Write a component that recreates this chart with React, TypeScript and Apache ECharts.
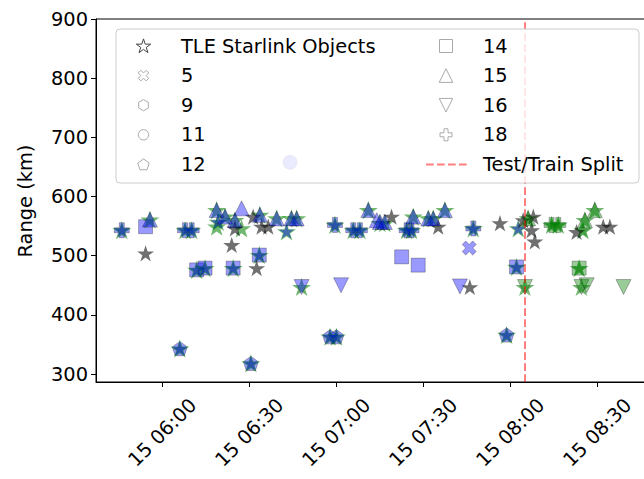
import React, { useEffect, useRef } from "react";
import * as echarts from "echarts";

// ---------- data ----------
const xTickTimes = ["06:00", "06:30", "07:00", "07:30", "08:00", "08:30"];
const xTickLabels = ["15 06:00", "15 06:30", "15 07:00", "15 07:30", "15 08:00", "15 08:30"];
const yTicks = [300, 400, 500, 600, 700, 800, 900];
const xStart = "05:37:06";
const xEnd = "08:50:00";
const yMin = 286.5;
const yMax = 900;
const splitTime = "08:04:48";
const yTitle = "Range (km)";

// TLE Starlink objects matched with an observation (time, range km)
const matchedStars: [string, number][] = [
  ["05:46:00", 543], ["05:55:42", 561], ["06:07:48", 543], ["06:10:06", 543],
  ["06:11:48", 476], ["06:14:42", 479], ["06:24:24", 479], ["06:33:24", 501],
  ["06:06:00", 343], ["06:30:30", 318], ["06:48:00", 447], ["06:57:48", 363],
  ["07:00:00", 363], ["06:18:42", 577], ["06:19:12", 557], ["06:18:42", 549],
  ["06:21:36", 566], ["06:25:00", 560], ["06:27:18", 546], ["06:33:36", 569],
  ["06:39:24", 563], ["06:42:48", 541], ["06:44:30", 563], ["06:46:18", 563],
  ["06:59:30", 552], ["07:05:48", 543], ["07:08:06", 543], ["07:11:00", 577],
  ["07:15:00", 555], ["07:16:42", 555], ["07:24:12", 543], ["07:25:54", 543],
  ["07:26:30", 566], ["07:31:42", 563], ["07:33:24", 563], ["07:37:24", 577],
  ["07:47:12", 546], ["07:58:42", 366], ["08:02:06", 481], ["08:02:42", 546],
  ["08:05:00", 447], ["08:06:06", 563], ["08:14:12", 552], ["08:16:30", 552],
  ["08:23:42", 479], ["08:24:30", 447], ["08:25:00", 543], ["08:25:42", 560],
  ["08:29:06", 577],
];
// TLE Starlink objects without an observation
const otherStars: [string, number][] = [
  ["05:54:12", 504], ["06:23:54", 518], ["06:25:00", 546], ["06:31:18", 566],
  ["06:34:12", 549], ["06:36:30", 549], ["06:32:30", 479], ["07:19:00", 566],
  ["07:35:06", 549], ["07:46:00", 447], ["07:56:24", 555], ["08:04:24", 560],
  ["08:07:54", 566], ["08:07:18", 543], ["08:08:24", 524], ["08:22:48", 540],
  ["08:32:00", 549], ["08:34:18", 549],
];
const sensor5: [string, number][] = [["07:45:48", 513]];
const sensor9: [string, number][] = [];
const sensor11: [string, number][] = [["06:44:00", 658]];
const sensor12: [string, number][] = [
  ["06:06:00", 343], ["06:30:30", 318], ["06:57:48", 363], ["07:00:00", 363], ["07:58:42", 366],
];
const sensor14: [string, number][] = [
  ["05:54:12", 549], ["06:11:48", 476], ["06:14:42", 479], ["06:24:24", 479],
  ["06:33:24", 501], ["07:22:30", 498], ["07:28:12", 484], ["08:02:06", 481], ["08:23:42", 479],
];
const sensor15: [string, number][] = [
  ["05:55:42", 561], ["06:18:42", 577], ["06:21:36", 566], ["06:25:00", 560],
  ["06:27:18", 580], ["06:33:36", 569], ["06:39:24", 563], ["06:44:30", 563],
  ["06:46:18", 563], ["07:11:00", 577], ["07:13:54", 560], ["07:15:00", 557],
  ["07:16:42", 557], ["07:26:30", 566], ["07:31:42", 563], ["07:33:24", 563],
  ["07:37:24", 577], ["08:06:06", 563], ["08:25:42", 560], ["08:29:06", 577],
];
const sensor16: [string, number][] = [
  ["06:48:00", 447], ["07:01:36", 450], ["07:42:36", 448], ["08:05:00", 447],
  ["08:24:30", 447], ["08:26:18", 450], ["08:39:00", 447],
];
const sensor18: [string, number][] = [
  ["05:46:00", 543], ["06:07:48", 543], ["06:10:06", 543], ["06:59:30", 552],
  ["07:05:48", 543], ["07:08:06", 543], ["07:24:12", 543], ["07:25:54", 543],
  ["07:47:12", 546], ["08:14:12", 552], ["08:16:30", 552],
];
const legendCol1 = ["TLE Starlink Objects", "5", "9", "11", "12"];
const legendCol2 = ["14", "15", "16", "18", "Test/Train Split"];

// ---------- helpers ----------
const FONT = "DejaVu Sans";
const FS = 19.4;
const toMin = (s: string) => {
  const [h, m, sec] = s.split(":").map(Number);
  return h * 60 + m + (sec || 0) / 60;
};
const splitMin = toMin(splitTime);

type Pt = [number, number];
const starPts = (): Pt[] => {
  const pts: Pt[] = [];
  for (let k = 0; k < 10; k++) {
    const a = ((-90 + k * 36) * Math.PI) / 180;
    const r = k % 2 === 0 ? 1 : 0.381966;
    pts.push([r * Math.cos(a), r * Math.sin(a)]);
  }
  return pts;
};
const regPts = (n: number): Pt[] => {
  const pts: Pt[] = [];
  for (let k = 0; k < n; k++) {
    const a = ((-90 + (k * 360) / n) * Math.PI) / 180;
    pts.push([Math.cos(a), Math.sin(a)]);
  }
  return pts;
};
const plusPts = (): Pt[] =>
  [[-1, -3], [1, -3], [1, -1], [3, -1], [3, 1], [1, 1], [1, 3], [-1, 3], [-1, 1], [-3, 1], [-3, -1], [-1, -1]].map(
    ([x, y]) => [x / 3, y / 3] as Pt
  );
const xPts = (): Pt[] =>
  plusPts().map(([x, y]) => {
    const c = Math.SQRT1_2;
    return [(x - y) * c, (x + y) * c] as Pt;
  });
const triUp: Pt[] = [[0, -1], [1, 1], [-1, 1]];
const triDown: Pt[] = [[-1, -1], [1, -1], [0, 1]];
const pathOf = (pts: Pt[]) =>
  "path://" + pts.map((p, i) => (i ? "L" : "M") + p[0].toFixed(4) + " " + p[1].toFixed(4)).join(" ") + " Z";

const STAR = pathOf(starPts());
const PENT = pathOf(regPts(5));
const HEX = pathOf(regPts(6));
const PLUS = pathOf(plusPts());
const XSYM = pathOf(xPts());
const TUP = pathOf(triUp);
const TDOWN = pathOf(triDown);

const BLUE = "rgba(0,0,255,0.5)";
const GREEN = "rgba(0,128,0,0.5)";
const EDGE = "rgba(0,0,0,0.35)";

const sensorSeries = (name: string, arr: [string, number][], symbol: string, size: number) => ({
  type: "scatter",
  name,
  symbol,
  symbolSize: size,
  symbolKeepAspect: true,
  silent: true,
  data: arr.map(([t, v]) => {
    const x = toMin(t);
    return { value: [x, v], itemStyle: { color: x < splitMin ? BLUE : GREEN, borderColor: EDGE, borderWidth: 1 } };
  }),
});

export default function App() {
  const ref = useRef<HTMLDivElement>(null);
  useEffect(() => {
    document.body.style.margin = "0";
    if (!ref.current) return;
    const chart = echarts.init(ref.current, undefined, { renderer: "svg" });
    const xTicks = xTickTimes.map(toMin);
    const xMin = toMin(xStart);
    const xMax = toMin(xEnd);
    const pxPerMin = 2.9;
    const triTimes = new Set([...sensor15, ...sensor16].map(([t]) => t));

    const g: any[] = [];
    g.push({
      type: "rect",
      shape: { x: 116, y: 29, width: 523, height: 154, r: 4 },
      style: { fill: "rgba(255,255,255,0.8)", stroke: "#cccccc", lineWidth: 1 },
      z: 100,
    });
    const rowY = (i: number) => 46 + i * 29.6;
    const c1m = 143.5;
    const c2m = 446;
    const c1t = 181;
    const c2t = 483;
    const poly = (pts: Pt[], cx: number, cy: number, r: number, stroke: string) => ({
      type: "polygon",
      shape: { points: pts.map(([x, y]) => [cx + x * r, cy + y * r]) },
      style: { fill: "#ffffff", stroke, lineWidth: 1 },
      z: 101,
    });
    g.push(poly(starPts(), c1m, rowY(0) + 0.5, 7.6, "#444444"));
    g.push(poly(xPts(), c1m, rowY(1), 5.6, "#aaaaaa"));
    g.push(poly(regPts(6), c1m, rowY(2), 5.6, "#aaaaaa"));
    g.push({
      type: "circle",
      shape: { cx: c1m, cy: rowY(3), r: 5.2 },
      style: { fill: "#ffffff", stroke: "#aaaaaa", lineWidth: 1 },
      z: 101,
    });
    g.push(poly(regPts(5), c1m, rowY(4) + 0.5, 6, "#aaaaaa"));
    g.push({
      type: "rect",
      shape: { x: c2m - 6.5, y: rowY(0) - 6.5, width: 13, height: 13 },
      style: { fill: "#ffffff", stroke: "#aaaaaa", lineWidth: 1 },
      z: 101,
    });
    g.push(poly(triUp, c2m, rowY(1), 6.8, "#aaaaaa"));
    g.push(poly(triDown, c2m, rowY(2), 6.8, "#aaaaaa"));
    g.push(poly(plusPts(), c2m, rowY(3), 6, "#aaaaaa"));
    g.push({
      type: "line",
      shape: { x1: 426, y1: rowY(4), x2: 467.5, y2: rowY(4) },
      style: { stroke: "rgba(255,0,0,0.5)", lineWidth: 2, lineDash: [7.7, 3.3] },
      z: 101,
    });
    const txt = (t: string, x: number, y: number) => ({
      type: "text",
      x,
      y,
      style: { text: t, fontSize: FS, fontFamily: FONT, fill: "#000", verticalAlign: "middle", align: "left" },
      z: 102,
    });
    legendCol1.forEach((t, i) => g.push(txt(t, c1t, rowY(i))));
    legendCol2.forEach((t, i) => g.push(txt(t, c2t, rowY(i))));
    g.push({
      type: "text",
      x: 25,
      y: 201,
      rotation: Math.PI / 2,
      style: { text: yTitle, fontSize: FS, fontFamily: FONT, fill: "#000", verticalAlign: "middle", align: "center" },
      z: 102,
    });

    chart.setOption({
      animation: false,
      backgroundColor: "#ffffff",
      textStyle: { fontFamily: FONT },
      grid: {
        left: 96,
        top: 19,
        width: (xMax - xMin) * pxPerMin,
        height: 363,
        show: true,
        borderColor: "#000",
        borderWidth: 1,
        backgroundColor: "transparent",
      },
      xAxis: {
        type: "value",
        min: xMin,
        max: xMax,
        axisLine: { show: true, onZero: false, lineStyle: { color: "#000", width: 1 } },
        axisTick: { show: true, customValues: xTicks, length: 5, lineStyle: { color: "#000", width: 1 } },
        axisLabel: {
          customValues: xTicks,
          rotate: 45,
          align: "center",
          verticalAlign: "middle",
          margin: 50.5,
          fontSize: FS,
          fontFamily: FONT,
          color: "#000",
          formatter: (v: number) => {
            const i = xTicks.findIndex((t) => Math.abs(t - v) < 0.01);
            return i >= 0 ? xTickLabels[i] : "";
          },
        },
        splitLine: { show: false },
      },
      yAxis: {
        type: "value",
        min: yMin,
        max: yMax,
        axisLine: { show: true, lineStyle: { color: "#000", width: 1 } },
        axisTick: { show: true, customValues: yTicks, length: 5, lineStyle: { color: "#000", width: 1 } },
        axisLabel: { customValues: yTicks, margin: 8, fontSize: FS, fontFamily: FONT, color: "#000" },
        splitLine: { show: false },
      },
      graphic: g,
      series: [
        // sensors drawn beneath the stars
        sensorSeries("14", sensor14, "rect", 14),
        sensorSeries("12", sensor12, PENT, 15),
        sensorSeries("18", sensor18, PLUS, 15),
        {
          type: "scatter",
          name: "TLE base",
          symbol: STAR,
          symbolSize: 19,
          symbolKeepAspect: true,
          silent: true,
          itemStyle: { color: "rgba(0,128,0,0.7)" },
          data: matchedStars.map(([t, v]) => [toMin(t), v]),
          markLine: {
            silent: true,
            symbol: "none",
            label: { show: false },
            lineStyle: { color: "rgba(255,0,0,0.5)", width: 2, type: [7.7, 3.3] },
            data: [{ xAxis: splitMin }],
          },
        },
        {
          type: "scatter",
          name: "TLE Starlink Objects",
          symbol: STAR,
          symbolSize: 15,
          symbolKeepAspect: true,
          silent: true,
          data: matchedStars
            .filter(([t]) => !triTimes.has(t))
            .map(([t, v]) => {
              const x = toMin(t);
              return { value: [x, v], itemStyle: { color: x < splitMin ? BLUE : GREEN } };
            }),
        },
        {
          type: "scatter",
          name: "TLE other",
          symbol: STAR,
          symbolSize: 17,
          symbolKeepAspect: true,
          silent: true,
          itemStyle: { color: "rgba(0,0,0,0.7)" },
          data: otherStars.map(([t, v]) => [toMin(t), v]),
        },
        // sensors drawn on top
        sensorSeries("5", sensor5, XSYM, 14),
        sensorSeries("9", sensor9, HEX, 14),
        sensorSeries("11", sensor11, "circle", 14),
        sensorSeries("15", sensor15, TUP, 15),
        sensorSeries("16", sensor16, TDOWN, 15),
      ],
    });
    return () => chart.dispose();
  }, []);
  return (
    <div style={{ width: 644, height: 479, overflow: "hidden", position: "relative" }}>
      <div ref={ref} style={{ width: 690, height: 479 }} />
    </div>
  );
}
